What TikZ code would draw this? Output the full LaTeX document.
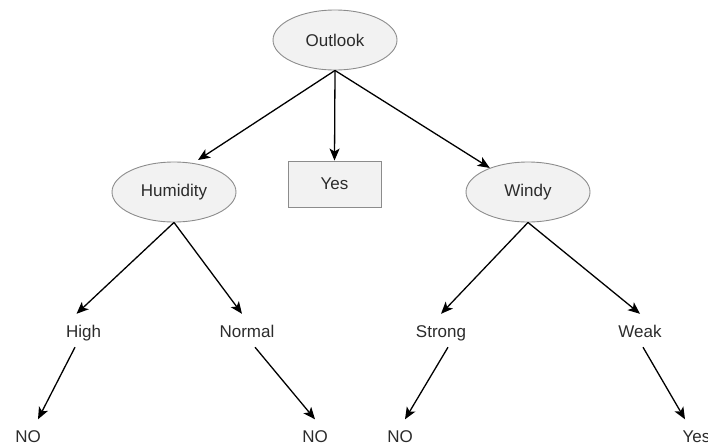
\documentclass[tikz,border=0pt]{standalone}
\usepackage{fontspec}
\setmainfont{Liberation Sans}
\usetikzlibrary{shapes.geometric,arrows.meta}
\definecolor{txt}{HTML}{2B2B2B}
\definecolor{nodefill}{HTML}{F2F2F2}
\definecolor{nodeline}{HTML}{8C8C8C}
\tikzset{
  decision/.style={ellipse, draw=nodeline, fill=nodefill, line width=0.9pt,
    minimum width=124pt, minimum height=60pt, inner sep=0pt,
    font=\fontsize{17}{20}\selectfont, text=txt},
  leafbox/.style={rectangle, draw=nodeline, fill=nodefill, line width=0.9pt,
    minimum width=93pt, minimum height=46pt, inner sep=0pt,
    font=\fontsize{17}{20}\selectfont, text=txt},
  branch/.style={inner sep=0pt, text height=23pt, text depth=10pt, anchor=base,
    font=\fontsize{17}{20}\selectfont, text=txt},
  outcome/.style={branch, text depth=0pt}
}
\tikzset{
  edge/.style={draw=black, line width=1.3pt,
    -{Stealth[length=12pt, width=10pt, inset=3pt]}}
}
\begin{document}
\begin{tikzpicture}[x=1pt, y=-1pt]
  \useasboundingbox (0,0) rectangle (708,445);

  % inner decision nodes and the direct leaf
  \node[decision] (outlook)  at (335,40)  {Outlook};
  \node[decision] (humidity) at (174,192) {Humidity};
  \node[leafbox]  (yes)      at (334.5,184) {Yes};
  \node[decision] (windy)    at (528,192) {Windy};

  % attribute values
  \node[branch] (high)   at (83.5,337) {High};
  \node[branch] (normal) at (247,337)  {Normal};
  \node[branch] (strong) at (441,337)  {Strong};
  \node[branch] (weak)   at (640,337)  {Weak};

  % outcomes
  \node[outcome] (no1)  at (28,442.5)   {NO};
  \node[outcome] (no2)  at (315,442.5)  {NO};
  \node[outcome] (no3)  at (400,442.5)  {NO};
  \node[outcome] (yes2) at (696.5,442.5) {Yes};

  % first split
  \draw[edge] (outlook.south) -- ([shift={(24,-32)}]humidity.center);
  \draw[edge] (outlook.south) -- (yes.north);
  \draw[edge] (outlook.south) -- (windy);

  % humidity branch
  \draw[edge] (humidity.south) -- ([shift={(-7,0)}]high.north);
  \draw[edge] (humidity.south) -- ([shift={(-5,0)}]normal.north);
  \draw[edge] ([shift={(-8.5,0)}]high.south) -- ([shift={(10,0)}]no1.north);
  \draw[edge] ([shift={(8,0)}]normal.south) -- (no2.north);

  % windy branch
  \draw[edge] (windy.south) -- (strong.north);
  \draw[edge] (windy.south) -- (weak.north);
  \draw[edge] ([shift={(7,0)}]strong.south) -- ([shift={(5,0)}]no3.north);
  \draw[edge] ([shift={(3,0)}]weak.south) -- ([shift={(-11.5,0)}]yes2.north);
\end{tikzpicture}
\end{document}
